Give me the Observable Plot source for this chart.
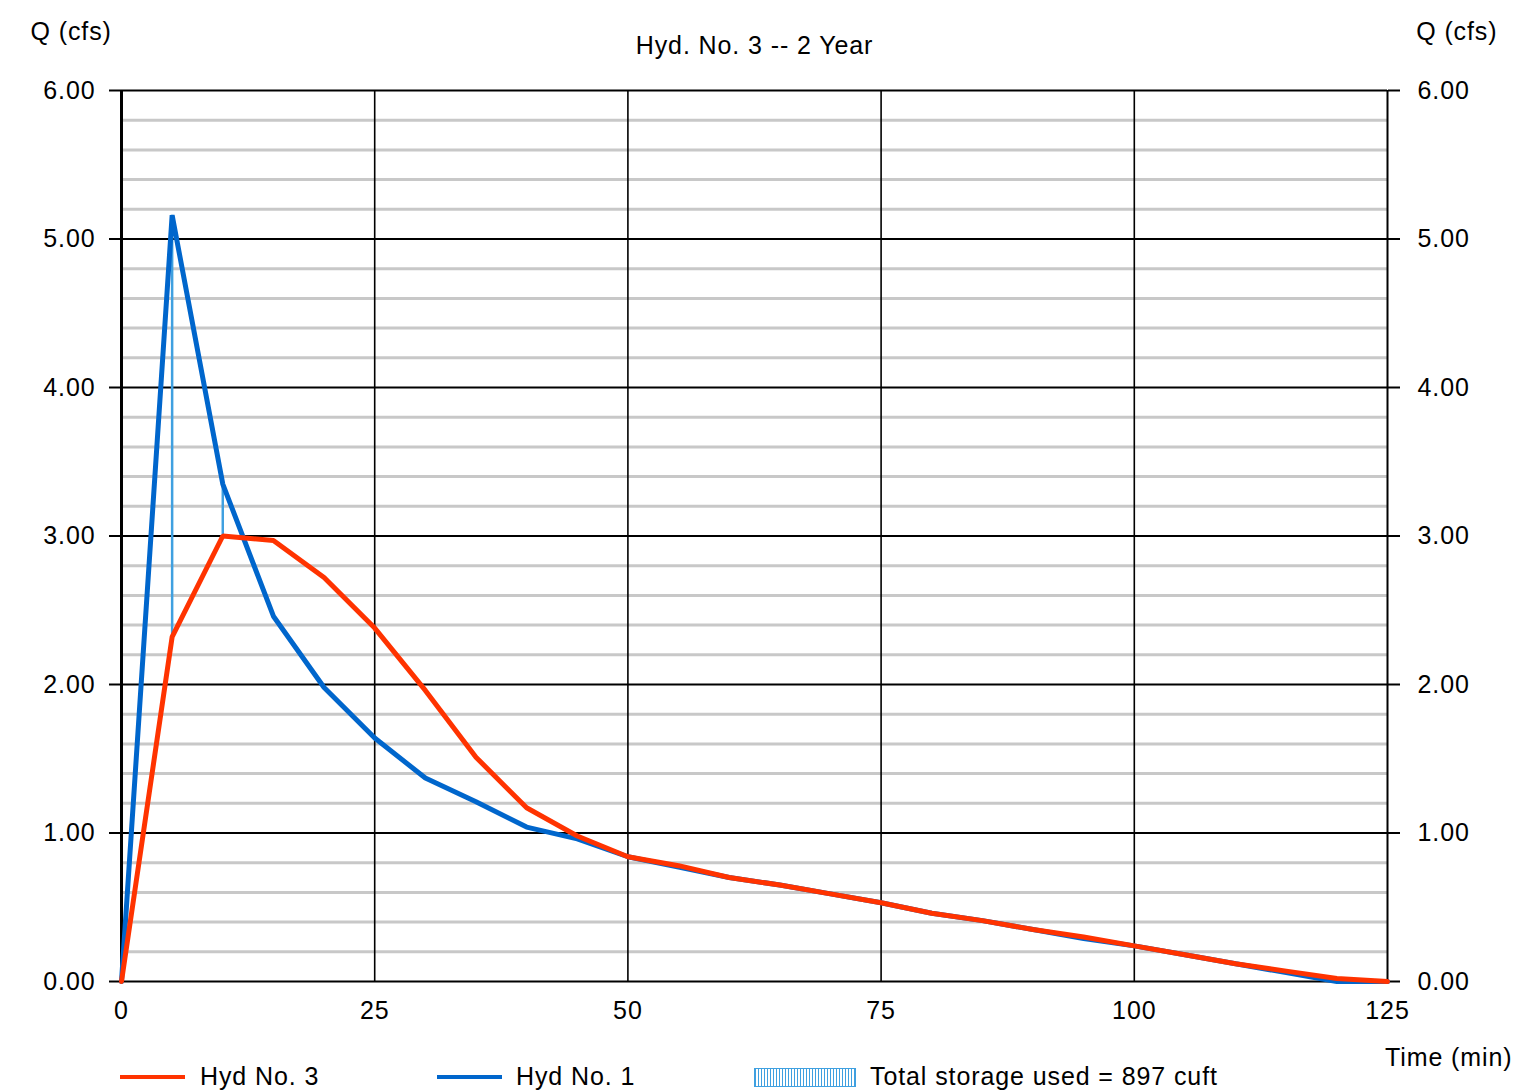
<!DOCTYPE html>
<html>
<head>
<meta charset="utf-8">
<script src="https://cdn.jsdelivr.net/npm/d3@7"></script>
<script src="https://cdn.jsdelivr.net/npm/@observablehq/plot@0.6"></script>
<style>
  html, body { margin: 0; padding: 0; background: #fff; }
  #wrap { position: relative; width: 1514px; height: 1090px; overflow: hidden; font-family: "Liberation Sans", Arial, sans-serif; }
  #wrap svg { position: absolute; left: 0; top: 0; }
  .lg-line { position: absolute; height: 4px; }
  .lg-text { position: absolute; font-size: 25px; line-height: 25px; color: #000; white-space: nowrap; letter-spacing: 0.9px; }
  .lg-box { position: absolute; border: 1px solid #3fa0e0; box-sizing: border-box;
    background: repeating-linear-gradient(90deg, #3fa0e0 0px, #3fa0e0 1px, #fff 1px, #fff 3px); }
</style>
</head>
<body>
<div id="wrap"></div>
<script>
// ---- data ----
const time = [0,5,10,15,20,25,30,35,40,45,50,55,60,65,70,75,80,85,90,95,100,105,110,115,120,125];
const hyd1 = [0,5.16,3.35,2.46,1.98,1.64,1.37,1.21,1.04,0.96,0.84,0.77,0.70,0.65,0.59,0.53,0.46,0.41,0.35,0.29,0.24,0.18,0.12,0.06,0.00,0.00];
const hyd3 = [0,2.32,3.00,2.97,2.72,2.38,1.96,1.51,1.17,0.98,0.84,0.78,0.70,0.65,0.59,0.53,0.46,0.41,0.35,0.30,0.24,0.18,0.12,0.07,0.02,0.00];
const xTicks = [0,25,50,75,100,125];
const yMajor = [0,1,2,3,4,5,6];
const yMinor = d3.range(0, 30).map(i => +(i * 0.2).toFixed(1)).filter(v => Math.abs(v - Math.round(v)) > 1e-9);
const title = "Hyd. No. 3 -- 2 Year";
const yLabel = "Q (cfs)";
const xLabel = "Time (min)";
const legend = [
  {label: "Hyd No. 3", color: "#ff3300"},
  {label: "Hyd No. 1", color: "#0066cc"}
];
const storageLabel = "Total storage used = 897 cuft";

const s1 = time.map((t, i) => ({t, q: hyd1[i]}));
const s3 = time.map((t, i) => ({t, q: hyd3[i]}));
const storage = time.map((t, i) => ({t, lo: hyd3[i], hi: hyd1[i]})).filter(d => d.hi > d.lo);

const fmt = d3.format(".2f");
const txt = {fontSize: 25, fill: "#000", stroke: null, lineAnchor: "middle"};

const chart = Plot.plot({
  width: 1514,
  height: 1090,
  marginTop: 90,
  marginRight: 127,
  marginBottom: 109,
  marginLeft: 121,
  style: {fontFamily: "Liberation Sans, Arial, sans-serif", fontSize: "25px", background: "#fff", color: "#000", letterSpacing: "0.9px"},
  x: {domain: [0, 125]},
  y: {domain: [0, 6]},
  marks: [
    Plot.ruleY(yMinor, {stroke: "#c8c8c8", strokeWidth: 3}),
    Plot.ruleX(xTicks.slice(1, -1), {stroke: "#000", strokeWidth: 1.6}),
    Plot.ruleY(yMajor, {stroke: "#000", strokeWidth: 2}),
    Plot.ruleX([0], {stroke: "#000", strokeWidth: 3}),
    Plot.ruleX([125], {stroke: "#000", strokeWidth: 2}),
    Plot.axisY({anchor: "left", ticks: yMajor, tickFormat: fmt, tickSize: 12, tickPadding: 14, strokeWidth: 2, label: null}),
    Plot.axisY({anchor: "right", ticks: yMajor, tickFormat: fmt, tickSize: 12, tickPadding: 18, strokeWidth: 2, label: null}),
    Plot.axisX({ticks: xTicks, tickSize: 0, tickPadding: 20, label: null}),
    Plot.ruleX(storage, {x: "t", y1: "lo", y2: "hi", stroke: "#3fa0e0", strokeWidth: 2.5}),
    Plot.line(s1, {x: "t", y: "q", stroke: "#0066cc", strokeWidth: 5, strokeLinejoin: "miter"}),
    Plot.line(s3, {x: "t", y: "q", stroke: "#ff3300", strokeWidth: 5, strokeLinejoin: "miter"}),
    Plot.text([yLabel], {text: d => d, frameAnchor: "top-left", textAnchor: "start", dx: -91, dy: -59, ...txt}),
    Plot.text([yLabel], {text: d => d, frameAnchor: "top-right", textAnchor: "end", dx: 110, dy: -59, ...txt}),
    Plot.text([title], {text: d => d, frameAnchor: "top", dy: -45, ...txt}),
    Plot.text([xLabel], {text: d => d, frameAnchor: "bottom-right", textAnchor: "end", dx: 125, dy: 76, ...txt})
  ]
});

const wrap = document.getElementById("wrap");
wrap.appendChild(chart);

// ---- legend (HTML overlay at the bottom) ----
const lgPos = [{line: 120, text: 200}, {line: 437, text: 516}];
legend.forEach((d, i) => {
  const ln = document.createElement("div");
  ln.className = "lg-line";
  ln.style.left = lgPos[i].line + "px";
  ln.style.top = "1075px";
  ln.style.width = "65px";
  ln.style.background = d.color;
  wrap.appendChild(ln);
  const t = document.createElement("div");
  t.className = "lg-text";
  t.style.left = lgPos[i].text + "px";
  t.style.top = "1064px";
  t.textContent = d.label;
  wrap.appendChild(t);
});
const box = document.createElement("div");
box.className = "lg-box";
box.style.left = "754px";
box.style.top = "1068px";
box.style.width = "102px";
box.style.height = "19px";
wrap.appendChild(box);
const st = document.createElement("div");
st.className = "lg-text";
st.style.left = "870px";
st.style.top = "1064px";
st.textContent = storageLabel;
wrap.appendChild(st);
</script>
</body>
</html>
